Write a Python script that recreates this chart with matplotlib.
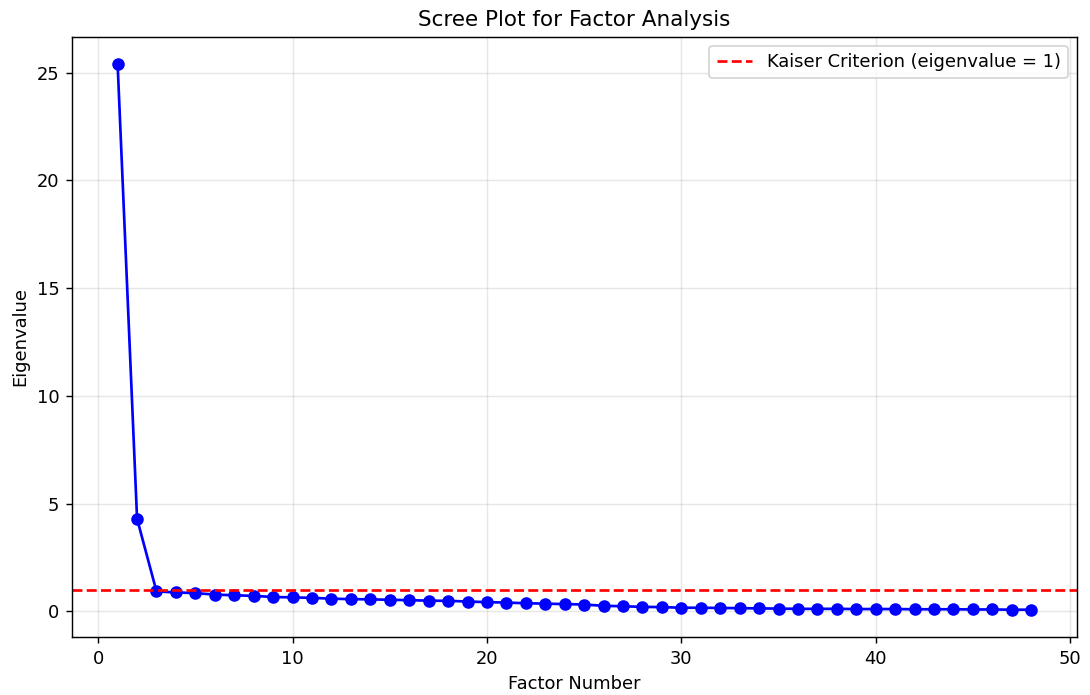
import numpy as np
import matplotlib
matplotlib.use("Agg")
import matplotlib.pyplot as plt

# eigenvalues
eigenvalues = [25.4, 4.3, 0.93, 0.88, 0.85, 0.78, 0.75, 0.72, 0.67, 0.65,
               0.63, 0.59, 0.57, 0.56, 0.54, 0.52, 0.50, 0.49, 0.46, 0.43,
               0.41, 0.38, 0.36, 0.34, 0.32, 0.26, 0.24, 0.21, 0.20, 0.17,
               0.17, 0.16, 0.15, 0.14, 0.13, 0.12, 0.12, 0.12, 0.11, 0.11,
               0.11, 0.10, 0.10, 0.10, 0.09, 0.09, 0.08, 0.08]
factor_numbers = list(range(1, len(eigenvalues) + 1))
kaiser = 1

DPI = 129
fig = plt.figure(figsize=(1090 / DPI, 695 / DPI), dpi=DPI)
ax = fig.add_axes([0.066, 0.0835, 0.922, 0.8635])

ax.plot(factor_numbers, eigenvalues, 'bo-')
ax.axhline(y=kaiser, color='r', linestyle='--',
           label='Kaiser Criterion (eigenvalue = 1)')

ax.set_title('Scree Plot for Factor Analysis')
ax.set_xlabel('Factor Number')
ax.set_ylabel('Eigenvalue')
ax.grid(True, alpha=0.3)
ax.legend()

fig.savefig('out.png', dpi=DPI)
